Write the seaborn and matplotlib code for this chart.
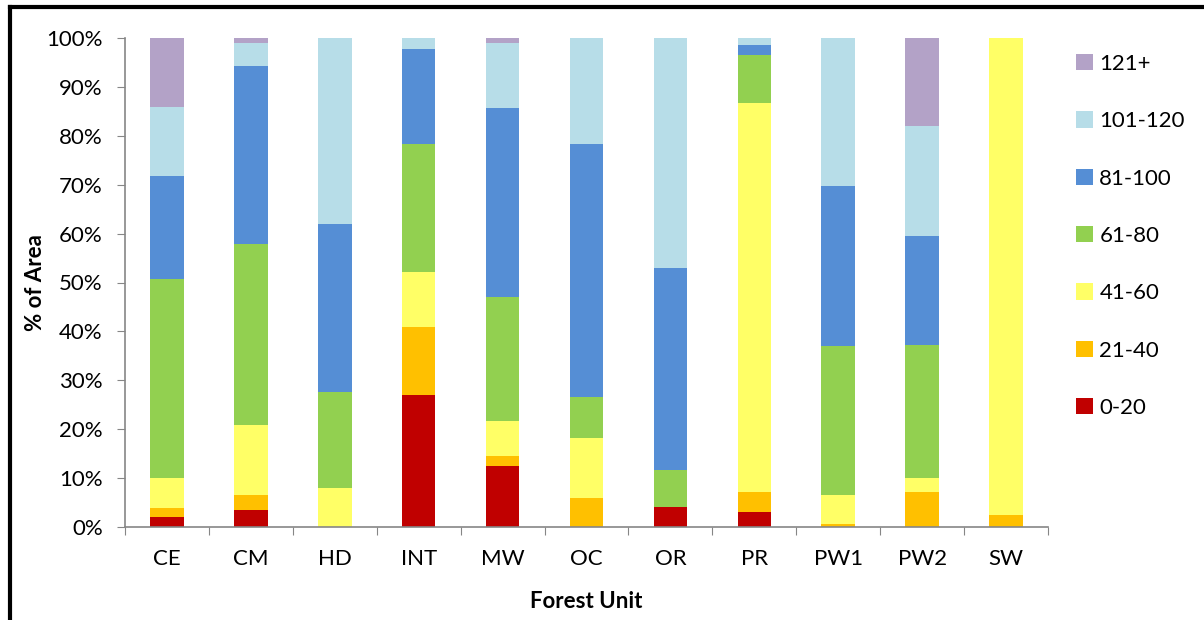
import numpy as np
import pandas as pd
import matplotlib
matplotlib.use('Agg')
import matplotlib.pyplot as plt
import seaborn as sns
from matplotlib.patches import Patch
from matplotlib.lines import Line2D
from matplotlib.ticker import FixedLocator, PercentFormatter

# Forest units on the x axis
units = ['CE', 'CM', 'HD', 'INT', 'MW', 'OC', 'OR', 'PR', 'PW1', 'PW2', 'SW']

# Age classes, bottom of the stack first
classes = ['0-20', '21-40', '41-60', '61-80', '81-100', '101-120', '121+']
class_colors = ['#C00000', '#FFC000', '#FFFF66', '#92D050', '#558ED5', '#B7DDE8', '#B3A2C7']

# % of area per age class (one list per class, in unit order)
age_0_20    = [2.0, 3.5, 0.0, 26.9, 12.5, 0.0, 4.1, 3.1, 0.0, 0.0, 0.0]
age_21_40   = [1.8, 3.0, 0.0, 14.1, 2.0, 5.9, 0.0, 4.1, 0.6, 7.2, 2.5]
age_41_60   = [6.2, 14.3, 8.0, 11.2, 7.2, 12.4, 0.0, 79.6, 6.0, 2.8, 97.5]
age_61_80   = [40.7, 37.1, 19.7, 26.1, 25.4, 8.3, 7.5, 9.7, 30.4, 27.2, 0.0]
age_81_100  = [21.1, 36.4, 34.2, 19.5, 38.6, 51.7, 41.4, 2.1, 32.8, 22.4, 0.0]
age_101_120 = [14.0, 4.7, 38.1, 2.2, 13.3, 21.7, 47.0, 1.4, 30.2, 22.5, 0.0]
age_121p    = [14.2, 1.0, 0.0, 0.0, 1.0, 0.0, 0.0, 0.0, 0.0, 17.9, 0.0]

df = pd.DataFrame({
    '0-20': age_0_20, '21-40': age_21_40, '41-60': age_41_60, '61-80': age_61_80,
    '81-100': age_81_100, '101-120': age_101_120, '121+': age_121p,
}, index=units)
df = df.div(df.sum(axis=1), axis=0) * 100  # 100% stacked
cum = df.cumsum(axis=1)

plt.rcParams['font.family'] = ['Lato', 'DejaVu Sans']
fig = plt.figure(figsize=(12.04, 6.2), dpi=100)
ax = fig.add_axes([125 / 1204, 93 / 620, 923 / 1204, 489 / 620])

# draw tallest cumulative first so lower classes sit on top
for cls, col in zip(reversed(classes), reversed(class_colors)):
    sns.barplot(x=units, y=cum[cls].values, order=units, color=col,
                saturation=1, width=0.4, linewidth=0, ax=ax)

ax.set_xlim(-0.5, len(units) - 0.5)
ax.set_ylim(0, 100)
ax.yaxis.set_major_locator(FixedLocator(np.arange(0, 101, 10)))
ax.yaxis.set_major_formatter(PercentFormatter(decimals=0))

# x ticks between categories, labels centred on bars
ax.xaxis.set_major_locator(FixedLocator(np.arange(-0.5, len(units), 1)))
ax.xaxis.set_minor_locator(FixedLocator(np.arange(len(units))))
ax.set_xticklabels([], minor=False)
ax.set_xticks(np.arange(len(units)), units, minor=True)
ax.tick_params(axis='x', which='major', length=6, color='#868686', direction='out')
ax.tick_params(axis='x', which='minor', length=0, pad=16, labelsize=16)
ax.tick_params(axis='y', length=6, color='#868686', direction='out', pad=10, labelsize=16)

for s in ['top', 'right']:
    ax.spines[s].set_visible(False)
for s in ['left', 'bottom']:
    ax.spines[s].set_color('#868686')
    ax.spines[s].set_linewidth(1.2)

ax.set_xlabel('Forest Unit', fontsize=16, fontweight='bold', labelpad=16)
ax.set_ylabel('% of Area', fontsize=16, fontweight='bold', labelpad=0)

handles = [Patch(facecolor=c, edgecolor='none') for c in reversed(class_colors)]
fig.legend(handles, list(reversed(classes)), loc='upper left',
           bbox_to_anchor=(1056 / 1204, 1 - 34 / 620), frameon=False,
           fontsize=16, handlelength=0.75, handleheight=0.75, handletextpad=0.3,
           labelspacing=1.68)

# outer frame lines (left and top)
fig.add_artist(Line2D([10 / 1204, 10 / 1204], [0, 1 - 7 / 620], color='black', lw=3))
fig.add_artist(Line2D([10 / 1204, 1], [1 - 7 / 620, 1 - 7 / 620], color='black', lw=3))

fig.savefig('out.png', dpi=100)
